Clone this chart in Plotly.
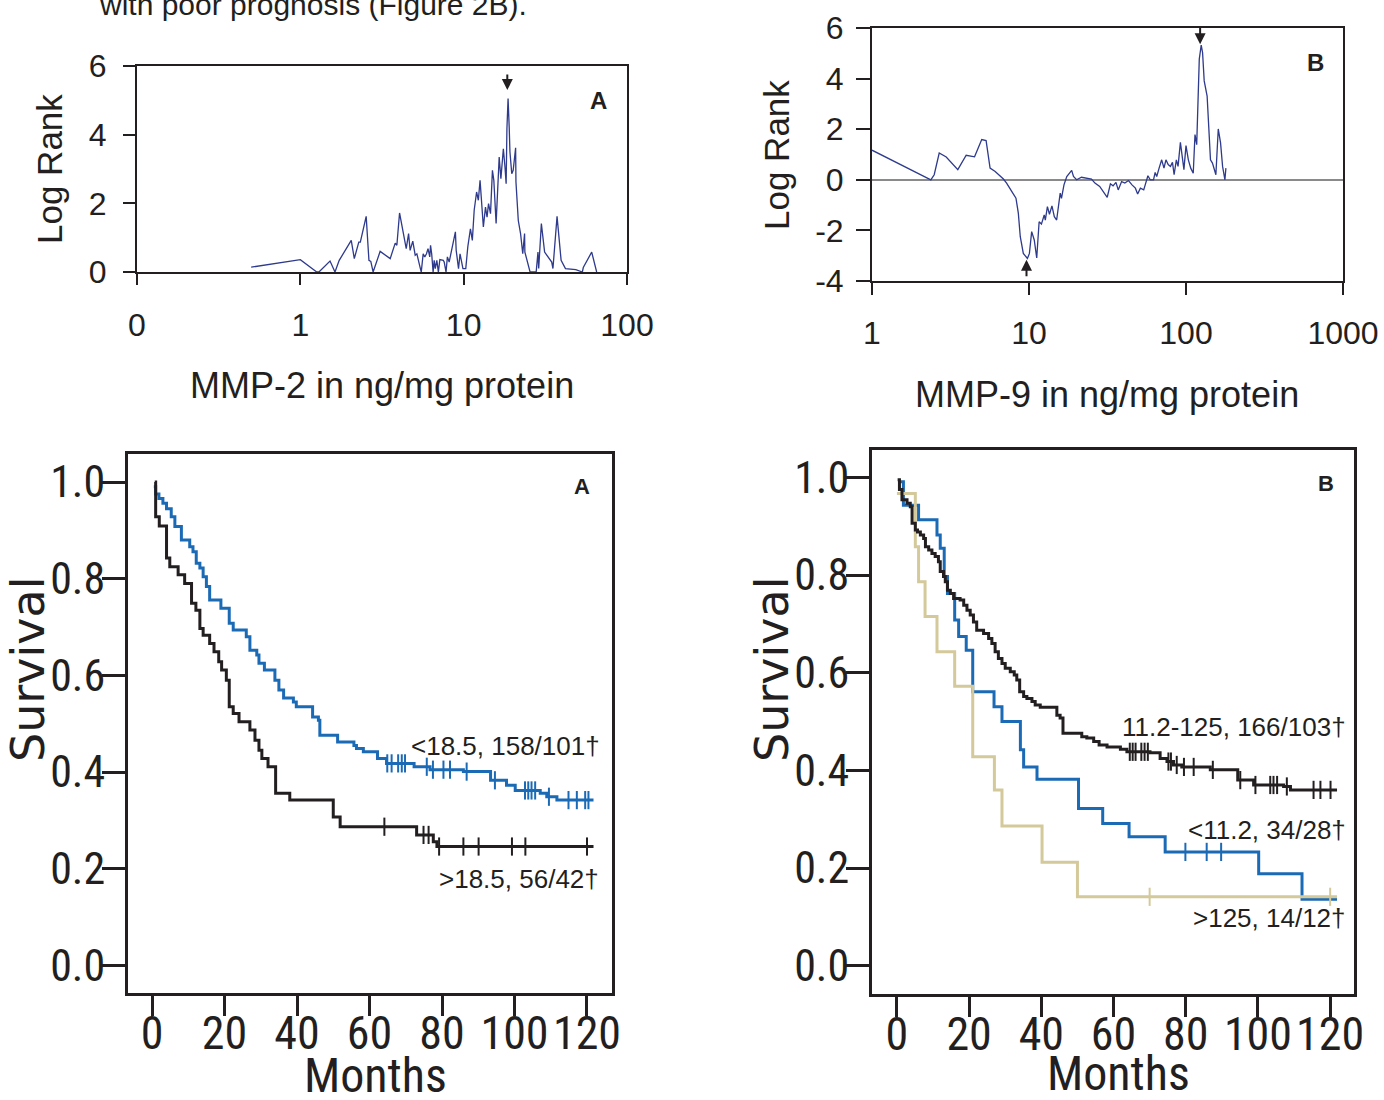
import numpy as np
import plotly.graph_objects as go

W, H = 1384, 1100

# ---------------- data: log-rank scan, MMP-2 ----------------
mmp2_conc = [0.50, 1.00, 1.26, 1.30, 1.52, 1.63, 1.73, 2.05, 2.14, 2.28,
             2.33, 2.53, 2.63, 2.70, 2.79, 3.08, 3.55, 3.81, 3.90, 4.05,
             4.45, 4.60, 4.70, 4.88, 5.05, 5.17, 5.40, 5.50, 5.65, 5.78,
             5.92, 6.05, 6.20, 6.27, 6.37, 6.50, 6.60, 6.70, 6.85, 7.00,
             7.15, 7.50, 7.60, 7.80, 7.95, 8.15, 8.90, 9.00, 9.30, 9.50,
             9.90, 10.3, 10.6, 11.0, 11.3, 11.6, 12.0, 12.3, 12.6, 12.9,
             13.2, 13.6, 13.9, 14.2, 14.6, 15.0, 15.3, 15.8, 16.1, 16.5,
             16.9, 17.5, 17.9, 18.2, 18.4, 18.7, 19.0, 19.2, 19.7, 20.1,
             20.8, 20.9, 21.6, 22.3, 23.0, 23.6, 23.7, 24.9, 25.5, 26.5,
             27.8, 28.5, 28.8, 29.9, 31.3, 34.6, 35.2, 37.3, 39.5, 42.0,
             48.6, 53.3, 54.0, 60.8, 65.2]
mmp2_logrank = [0.14, 0.36, 0, 0, 0.32, 0, 0.34, 0.92, 0.39, 0.87,
                0.87, 1.62, 0.34, 0.31, 0, 0.60, 0.39, 0.84, 0.78, 1.72,
                0.68, 1.12, 0.63, 0.90, 0.49, 0.53, 0.15, 0, 0.53, 0.44,
                0.53, 0.68, 0.44, 0.78, 0.53, 0, 0.34, 0.10, 0.34, 0,
                0.36, 0.34, 0.29, 0, 0.44, 0.29, 1.17, 0.63, 0.10, 0.53,
                0.10, 0.10, 0.73, 1.26, 0.92, 1.80, 2.33, 2.09, 2.67, 1.99,
                1.31, 1.89, 1.60, 1.99, 1.70, 2.96, 2.67, 1.41, 2.18, 3.35,
                2.72, 3.59, 3.06, 2.57, 4.17, 5.05, 4.22, 3.50, 2.86, 2.96,
                3.62, 2.62, 1.50, 1.12, 0.53, 1.12, 0.58, 0.15, 0, 0,
                0, 0.58, 0.10, 1.41, 0.58, 0.29, 0.10, 1.62, 0.34, 0.10,
                0.07, 0, 0.13, 0.58, 0]
mmp2_cutoff = 18.5

# ---------------- data: log-rank scan, MMP-9 ----------------
mmp9_conc = [1.0, 2.37, 2.49, 2.68, 2.97, 3.52, 3.98, 4.5, 5.0, 5.33,
             5.65, 6.09, 6.87, 7.2, 7.76, 8.26, 8.55, 8.8, 9.2, 9.77,
             10.06, 10.4, 10.8, 11.2, 11.6, 12.0, 12.5, 12.7, 13.1, 13.5,
             14.0, 14.5, 15.0, 15.8, 16.1, 16.7, 17.4, 18.1, 18.7, 19.2,
             20.1, 21.6, 23.2, 25.0, 26.3, 28.2, 31.5, 33.0, 34.3, 35.8,
             37.0, 38.9, 40.8, 43.0, 45.3, 47.6, 49.2, 51.2, 53.8, 55.2,
             57.2, 59.2, 62.1, 63.6, 65.1, 67.4, 70.0, 72.4, 74.5, 77.0,
             79.6, 82.0, 84.0, 86.8, 89.0, 92.1, 95.0, 97.0, 100.0, 103.5,
             107.2, 111.2, 114.1, 117.0, 121.5, 125.0, 127.5, 130.6, 136.3, 140.4,
             143.2, 147.4, 155.0, 160.5, 166.0, 171.0, 177.0, 179.5]
mmp9_logrank = [1.17, 0, 0.2, 1.06, 0.9, 0.4, 0.97, 0.91, 1.59, 1.55,
                0.46, 0.33, 0.03, -0.13, -0.46, -0.73, -1.32, -2.25, -2.91, -3.11,
                -2.91, -2.05, -2.38, -3.09, -1.66, -1.75, -1.39, -1.59, -1.06, -1.36,
                -1.03, -1.46, -1.59, -0.53, -0.73, -0.2, 0.13, 0.24, 0.37, 0.13,
                0, 0.1, 0.07, 0.03, -0.13, -0.26, -0.69, -0.16, -0.24, -0.1,
                -0.4, -0.07, -0.13, -0.03, -0.2, -0.33, -0.56, -0.33, -0.4, -0.13,
                0.16, 0, 0, 0.29, 0.13, 0.46, 0.79, 0.46, 0.79, 0.6,
                0.53, 0.69, 0.2, 0.79, 0.53, 1.48, 0.93, 0.4, 1.35, 0.79,
                0.46, 0.26, 1.79, 1.39, 4.77, 5.32, 5.03, 3.91, 3.31, 1.99,
                0.79, 0.66, 0.2, 2.01, 1.46, 0.53, 0, 0.46]
mmp9_cut_high = 123.0
mmp9_cut_low = 9.64

top_y_ticks_a = [0, 2, 4, 6]
top_x_ticks_a = [0.1, 1, 10, 100]
top_x_labels_a = ["0", "1", "10", "100"]
top_y_ticks_b = [-4, -2, 0, 2, 4, 6]
top_y_labels_b = ["-4", "-2", "0", "2", "4", "6"]
top_x_ticks_b = [1, 10, 100, 1000]
top_x_labels_b = ["1", "10", "100", "1000"]

# ---------------- data: Kaplan-Meier, MMP-2 ----------------
kmA_low_t = [0.5, 1.0, 1.9, 3.0, 4.0, 5.3, 6.3, 8.1, 10.4, 11.3,
             12.2, 13.2, 14.1, 15.0, 15.9, 19.0, 21.3, 22.4, 26.0, 27.0,
             28.9, 29.5, 31.0, 33.9, 35.0, 36.3, 39.0, 39.8, 44.3, 45.9,
             46.3, 51.2, 55.7, 56.4, 58.3, 62.2, 64.7, 72.3, 76.7, 85.9,
             93.4, 97.8, 100.2, 107.1, 108.9, 111.7]
kmA_low_s = [0.99, 0.975, 0.966, 0.956, 0.945, 0.928, 0.908, 0.88, 0.866, 0.856,
             0.832, 0.822, 0.804, 0.784, 0.756, 0.739, 0.708, 0.694, 0.68, 0.652,
             0.642, 0.625, 0.611, 0.59, 0.57, 0.553, 0.545, 0.535, 0.514, 0.507,
             0.476, 0.462, 0.455, 0.449, 0.442, 0.428, 0.418, 0.411, 0.405, 0.401,
             0.383, 0.373, 0.362, 0.356, 0.349, 0.342]
kmA_low_cens = [64.9, 66.1, 67.9, 68.9, 69.8, 75.8, 77.5, 80.4, 82.2, 86.8,
                94.6, 102.9, 103.8, 104.7, 105.7, 109.5, 114.9, 117.2, 119.5, 120.4]
kmA_high_t = [0.75, 1.0, 2.0, 4.0, 4.9, 7.2, 9.0, 10.9, 12.1, 13.2,
              14.1, 15.9, 17.1, 18.4, 19.2, 20.5, 21.3, 22.4, 24.0, 27.0,
              28.4, 29.5, 30.3, 32.0, 34.1, 38.0, 50.0, 51.9, 73.0, 77.6, 78.6]
kmA_high_s = [1.0, 0.928, 0.909, 0.843, 0.825, 0.808, 0.79, 0.749, 0.735, 0.697,
              0.683, 0.666, 0.649, 0.628, 0.611, 0.59, 0.535, 0.521, 0.504, 0.487,
              0.466, 0.445, 0.428, 0.411, 0.356, 0.342, 0.307, 0.287, 0.27, 0.256, 0.246]
kmA_high_cens = [64.1, 74.9, 76.3, 79.2, 85.9, 90.1, 99.3, 103.0, 120.0]
kmA_end = 121.8

# ---------------- data: Kaplan-Meier, MMP-9 ----------------
kmB_mid_t = [0.2, 0.7, 1.4, 2.8, 3.7, 4.2, 5.1, 5.7, 6.5, 7.4,
             7.9, 8.8, 9.7, 10.6, 11.5, 12.0, 12.9, 13.4, 14.0, 14.8,
             15.7, 17.5, 18.5, 19.4, 20.3, 21.2, 22.1, 24.0, 25.4, 26.3,
             27.2, 28.1, 29.1, 30.0, 31.4, 32.5, 33.2, 34.0, 35.1, 36.0,
             37.4, 38.3, 39.7, 44.3, 45.2, 46.0, 51.2, 52.6, 54.5, 56.0,
             58.2, 61.9, 63.7, 70.1, 72.9, 74.8, 76.6, 78.9, 86.8, 94.4,
             98.8, 107.1, 109.0]
kmB_mid_s = [0.995, 0.975, 0.954, 0.947, 0.940, 0.906, 0.892, 0.888, 0.882, 0.875,
             0.858, 0.851, 0.844, 0.838, 0.827, 0.807, 0.797, 0.786, 0.769, 0.762,
             0.752, 0.749, 0.738, 0.728, 0.718, 0.704, 0.687, 0.680, 0.670, 0.660,
             0.643, 0.629, 0.619, 0.609, 0.602, 0.595, 0.585, 0.561, 0.551, 0.547,
             0.541, 0.534, 0.529, 0.513, 0.507, 0.476, 0.469, 0.466, 0.459, 0.452,
             0.448, 0.443, 0.438, 0.436, 0.424, 0.418, 0.411, 0.407, 0.401, 0.380,
             0.370, 0.367, 0.360]
kmB_mid_cens = [64.5, 65.3, 66.1, 67.7, 68.6, 69.5, 75.2, 75.9, 77.5, 79.5,
                82.2, 87.5, 95.1, 99.3, 103.4, 104.3, 105.3, 108.0, 115.4, 117.3, 120.1]
kmB_low_t = [0.7, 1.8, 6.0, 11.1, 12.0, 13.1, 14.0, 16.0, 17.1, 19.2,
             21.0, 26.9, 29.1, 34.2, 35.1, 38.8, 50.3, 57.0, 64.3, 74.3,
             100.2, 112.2]
kmB_low_s = [0.991, 0.943, 0.913, 0.882, 0.855, 0.797, 0.762, 0.708, 0.674, 0.646,
             0.561, 0.530, 0.500, 0.442, 0.407, 0.382, 0.322, 0.291, 0.264, 0.233,
             0.188, 0.136]
kmB_low_cens = [79.9, 85.8, 89.8]
kmB_high_t = [0.0, 5.1, 6.0, 7.8, 11.1, 16.0, 21.0, 27.0, 29.1, 40.2, 50.0]
kmB_high_s = [0.967, 0.858, 0.786, 0.715, 0.643, 0.572, 0.428, 0.360, 0.286, 0.212, 0.141]
kmB_high_cens = [70.0, 120.0]
kmB_end = 121.9

km_ticks_x = [0, 20, 40, 60, 80, 100, 120]
km_ticks_y = [0.0, 0.2, 0.4, 0.6, 0.8, 1.0]
km_labels_y = ["0.0", "0.2", "0.4", "0.6", "0.8", "1.0"]

# ---------------- styling ----------------
INK = "#231f20"
NAVY = "#2e3a8c"
KM_BLUE = "#1b6ab5"
KM_TAN = "#d4c99a"
SANS = "Liberation Sans, Arial, Helvetica, sans-serif"
WIDE = "DejaVu Sans, Liberation Sans, sans-serif"
NARROW = "Roboto Condensed, Liberation Sans Narrow, DejaVu Sans Condensed, Arial Narrow, Liberation Sans, sans-serif"


def px(xp):
    return xp / W


def py(yp):
    return 1 - yp / H


def narrow_font(size):
    f = dict(family=NARROW, size=size, color=INK)
    try:
        go.layout.xaxis.Tickfont(stretch="condensed")
        f["stretch"] = "condensed"
    except Exception:
        pass
    return f


def step_xy(times, surv, t_end):
    return list(times) + [t_end], list(surv) + [surv[-1]]


def level_at(tc, times, surv):
    idx = np.searchsorted(np.asarray(times), np.asarray(tc), side="right") - 1
    return np.asarray(surv)[np.clip(idx, 0, None)]


fig = go.Figure()

fig.add_trace(go.Scatter(x=mmp2_conc, y=mmp2_logrank, mode="lines",
                         line=dict(color=NAVY, width=1.3), xaxis="x", yaxis="y"))
fig.add_trace(go.Scatter(x=mmp9_conc, y=mmp9_logrank, mode="lines",
                         line=dict(color=NAVY, width=1.3), xaxis="x2", yaxis="y2"))


def add_km(times, surv, cens, t_end, color, width, xa, ya):
    x, y = step_xy(times, surv, t_end)
    fig.add_trace(go.Scatter(x=x, y=y, mode="lines", line=dict(color=color, width=width, shape="hv"),
                             xaxis=xa, yaxis=ya))
    fig.add_trace(go.Scatter(x=cens, y=level_at(cens, times, surv), mode="markers",
                             marker=dict(symbol="line-ns", size=13, color=color,
                                         line=dict(color=color, width=2)),
                             xaxis=xa, yaxis=ya))


add_km(kmA_low_t, kmA_low_s, kmA_low_cens, kmA_end, KM_BLUE, 3, "x3", "y3")
add_km(kmA_high_t, kmA_high_s, kmA_high_cens, kmA_end, INK, 3, "x3", "y3")
add_km(kmB_low_t, kmB_low_s, kmB_low_cens, kmB_end, KM_BLUE, 3, "x4", "y4")
add_km(kmB_high_t, kmB_high_s, kmB_high_cens, kmB_end, KM_TAN, 3, "x4", "y4")
add_km(kmB_mid_t, kmB_mid_s, kmB_mid_cens, kmB_end, INK, 3, "x4", "y4")

common_top = dict(showline=True, linewidth=2, linecolor=INK, mirror=True, ticks="outside",
                  tickwidth=2, tickcolor=INK, showgrid=False, zeroline=False, automargin=False,
                  tickangle=0, tickfont=dict(family=SANS, size=32, color=INK))
common_kmx = dict(showline=True, linewidth=3, linecolor=INK, mirror=True, ticks="outside",
                  tickwidth=3, tickcolor=INK, showgrid=False, zeroline=False, automargin=False,
                  tickangle=0, tickfont=narrow_font(46))
common_kmy = {**common_kmx, "tickfont": narrow_font(44)}

fig.update_layout(
    width=W, height=H, margin=dict(l=0, r=0, t=0, b=0, autoexpand=False),
    paper_bgcolor="white", plot_bgcolor="white", showlegend=False,
    xaxis=dict(domain=[px(137), px(627)], anchor="y", type="log", range=[-1, 2],
               tickvals=top_x_ticks_a, ticktext=top_x_labels_a, ticklen=11,
               ticklabelstandoff=13, **common_top),
    yaxis=dict(domain=[py(272), py(66)], anchor="x", range=[0, 6],
               tickvals=top_y_ticks_a, ticklen=12, ticklabelstandoff=10, **common_top),
    xaxis2=dict(domain=[px(872), px(1343)], anchor="y2", type="log", range=[0, 3],
                tickvals=top_x_ticks_b, ticktext=top_x_labels_b, ticklen=12,
                ticklabelstandoff=11, **common_top),
    yaxis2=dict(domain=[py(281), py(28)], anchor="x2", range=[-4, 6],
                tickvals=top_y_ticks_b, ticktext=top_y_labels_b, ticklen=14, ticklabelstandoff=6,
                **{**common_top, "zeroline": True}, zerolinecolor="#8a8a8a", zerolinewidth=1.5),
    xaxis3=dict(domain=[px(128), px(612)], anchor="y3", range=[-6.63, 126.9],
                tickvals=km_ticks_x, ticklen=20, ticklabelstandoff=-22, **common_kmx),
    yaxis3=dict(domain=[py(993), py(454)], anchor="x3", range=[-0.057, 1.058],
                tickvals=km_ticks_y, ticktext=km_labels_y, ticklen=23, ticklabelstandoff=-12,
                **common_kmy),
    xaxis4=dict(domain=[px(872), px(1354)], anchor="y4", range=[-6.9, 126.6],
                tickvals=km_ticks_x, ticklen=20, ticklabelstandoff=-22, **common_kmx),
    yaxis4=dict(domain=[py(994), py(450)], anchor="x4", range=[-0.058, 1.056],
                tickvals=km_ticks_y, ticktext=km_labels_y, ticklen=23, ticklabelstandoff=-12,
                **common_kmy),
)


def note(text, x, y, size, family=SANS, angle=0, xanchor="center", bold=False, font=None):
    fig.add_annotation(text=f"<b>{text}</b>" if bold else text, x=px(x), y=py(y),
                       xref="paper", yref="paper", showarrow=False, textangle=angle,
                       xanchor=xanchor, yanchor="middle",
                       font=font or dict(family=family, size=size, color=INK))


note("with poor prognosis (Figure 2B).", 313, 5, 30)
note("Log Rank", 50, 169, 35, angle=-90)
note("MMP-2 in ng/mg protein", 382, 385, 36)
note("A", 598, 100, 24, bold=True)
note("Log Rank", 777, 155, 35, angle=-90)
note("MMP-9 in ng/mg protein", 1107, 394, 36)
note("B", 1315, 62, 24, bold=True)

note("Survival", 28, 670, 46, family=WIDE, angle=-90)
note("Months", 375, 1075, 46, font=narrow_font(48))
note("A", 582, 486, 22, bold=True)
note("&lt;18.5, 158/101†", 602, 746, 26, xanchor="right")
note("&gt;18.5, 56/42†", 601, 879, 26, xanchor="right")

note("Survival", 772, 670, 46, family=WIDE, angle=-90)
note("Months", 1118, 1073, 46, font=narrow_font(48))
note("B", 1326, 483, 22, bold=True)
note("11.2-125, 166/103†", 1348, 727, 26, xanchor="right")
note("&lt;11.2, 34/28†", 1348, 830, 26, xanchor="right")
note("&gt;125, 14/12†", 1348, 918, 26, xanchor="right")

arrow = dict(showarrow=True, arrowhead=2, arrowsize=1.1, arrowwidth=2, arrowcolor=INK, text="", ax=0)
fig.add_annotation(x=np.log10(mmp2_cutoff), y=5.3, xref="x", yref="y", ay=-17, **arrow)
fig.add_annotation(x=np.log10(mmp9_cut_high), y=5.36, xref="x2", yref="y2", ay=-18, **arrow)
fig.add_annotation(x=np.log10(mmp9_cut_low), y=-3.16, xref="x2", yref="y2", ay=18, **arrow)

fig.write_html("out.html")
